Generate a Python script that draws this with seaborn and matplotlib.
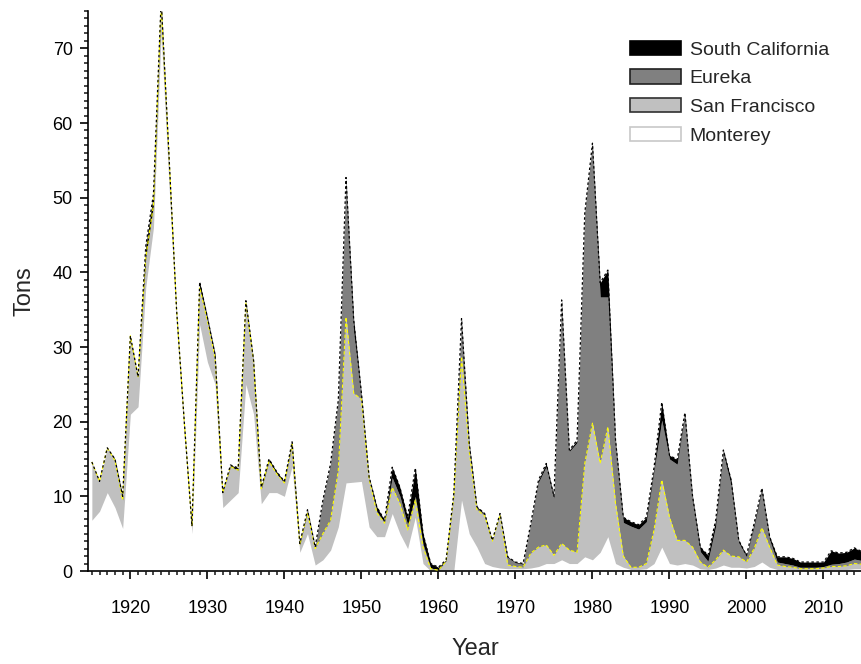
import numpy as np
import pandas as pd
import matplotlib
matplotlib.use("Agg")
import matplotlib.pyplot as plt
from matplotlib.patches import Patch
from matplotlib.ticker import MultipleLocator
import seaborn as sns

years = list(range(1915, 2016))

monterey = [6.8, 8, 10.5, 8.5, 5.7, 21, 22, 38, 46, 72,
            52, 33, 18, 5, 33, 28, 25, 8.5, 9.5, 10.5,
            25, 21, 9, 10.5, 10.5, 10, 14, 2.5, 5, 0.8,
            1.5, 2.8, 5.9, 11.8, 11.9, 12, 5.9, 4.6, 4.6, 7.7,
            5, 3, 7.2, 1, 0, 0, 0, 0, 9.5, 5,
            3.2, 1, 0.6, 0.4, 0.3, 0.3, 0.3, 0.4, 0.6, 1,
            1, 1.5, 1, 1, 1.9, 1.5, 2.5, 4.6, 1, 0.5,
            0.2, 0.2, 0.3, 1, 3.2, 1, 0.8, 1, 0.8, 0.3,
            0.2, 0.4, 0.8, 0.5, 0.5, 0.4, 0.6, 1.2, 0.5, 0.2,
            0.2, 0.2, 0.1, 0.1, 0.1, 0.1, 0.2, 0.2, 0.2, 0.3,
            0.3]

san_francisco = [7.8, 4, 6, 6.3, 3.8, 10.5, 4, 4, 3, 4,
                 4, 2, 2, 1, 5, 5.5, 3.5, 2, 4.5, 3,
                 11, 7, 2, 4.2, 2.5, 1.8, 3, 1, 2.8, 2.2,
                 3.5, 4, 7.6, 22.2, 11.9, 11, 6.4, 3.2, 1.8, 3.5,
                 4, 2.5, 2.3, 2.2, 0.3, 0.1, 1.3, 10, 19.2, 11,
                 5, 6.4, 3.4, 7.1, 0.5, 0.3, 0.2, 2, 2.6, 2.5,
                 1.1, 2.2, 1.8, 1.5, 12.5, 18.3, 11.9, 14.7, 8, 1.5,
                 0.3, 0.3, 0.7, 4.5, 9, 6.2, 3.3, 3.1, 2.4, 0.9,
                 0.3, 1.1, 2, 1.5, 1.4, 0.8, 2.4, 4.6, 2.7, 0.6,
                 0.4, 0.3, 0.2, 0.2, 0.2, 0.3, 0.4, 0.4, 0.5, 0.7,
                 0.6]

eureka = [0, 0, 0, 0, 0, 0, 0, 0, 0, 0,
          0, 0, 0, 0, 0, 0, 0, 0, 0, 0,
          0, 0, 0, 0, 0, 0, 0, 0, 0.2, 0,
          4.3, 7.4, 9.2, 18.5, 8.2, 0.6, 0.2, 0.2, 0.1, 1.3,
          1, 0.7, 0.5, 0.4, 0.1, 0.1, 0.1, 0.2, 4.8, 0.8,
          0.2, 0.2, 0.1, 0.1, 1, 0.5, 0.4, 3.8, 8.7, 10.5,
          7.6, 32.3, 13.2, 14.7, 33.2, 37.2, 22.3, 17.4, 8.2, 4.5,
          5.5, 5.1, 5.6, 7.9, 8, 7.8, 10.2, 16.7, 6.4, 1.4,
          0.8, 4.5, 13, 9.5, 1.9, 0.7, 3, 5, 1, 0.4,
          0.4, 0.3, 0.2, 0.2, 0.2, 0.2, 0.3, 0.4, 0.5, 0.6,
          0.5]

south_california = [0, 0, 0, 0.2, 0.5, 0, 0, 1.5, 1.5, 0.5,
                    0, 0, 0, 0, 0.7, 0.5, 0.5, 0, 0.2, 0.3,
                    0.2, 0.2, 0.2, 0.3, 0.3, 0.2, 0.3, 0.2, 0.2, 0.2,
                    0.2, 0.2, 0.2, 0.2, 1.6, 0.2, 0.1, 0.6, 0.3, 1.4,
                    1.2, 1, 3.8, 1.4, 0.6, 0.3, 0.1, 0.2, 0.3, 0.3,
                    0.2, 0.1, 0, 0.1, 0.1, 0.1, 0.1, 0.2, 0.3, 0.4,
                    0.3, 0.3, 0.2, 0.3, 0.3, 0.3, 1.9, 3.6, 0.3, 0.7,
                    0.6, 0.6, 0.6, 0.5, 2.4, 0.5, 0.6, 0.4, 0.4, 0.6,
                    0.8, 0.8, 0.4, 0.7, 0.3, 0.2, 0.4, 0.3, 0.4, 0.7,
                    0.9, 0.9, 0.7, 0.7, 0.7, 0.6, 1.8, 1.4, 1.3, 1.5,
                    1.2]

series_names = ["Monterey", "San Francisco", "Eureka", "South California"]
series_colors = ["#ffffff", "#c0c0c0", "#808080", "#000000"]
legend_edges = ["#c8c8c8", "#303030", "#202020", "#000000"]

df = pd.DataFrame({"Year": years, "Monterey": monterey,
                   "San Francisco": san_francisco, "Eureka": eureka,
                   "South California": south_california})

sns.set_style("ticks")
plt.rcParams["font.family"] = ["Liberation Sans", "DejaVu Sans"]

fig = plt.figure(figsize=(8.62, 6.64), dpi=100)
ax = fig.add_axes([88 / 862, 1 - 571 / 664, 1 - 88 / 862, (571 - 11) / 664])

base = np.zeros(len(years))
tops = []
for name, col in zip(series_names, series_colors):
    top = base + df[name].to_numpy()
    ax.fill_between(df["Year"], base, top, color=col, linewidth=0, zorder=2)
    tops.append(top)
    base = top

# outlines
sf_top = pd.DataFrame({"Year": years, "v": tops[1]})
total = pd.DataFrame({"Year": years, "v": tops[3]})
sns.lineplot(data=sf_top, x="Year", y="v", ax=ax, color="#ffff00",
             linewidth=0.8, linestyle=(0, (3, 2)), zorder=3)
sns.lineplot(data=total, x="Year", y="v", ax=ax, color="black",
             linewidth=0.9, linestyle=(0, (2, 2)), zorder=4)

ax.set_xlim(1914.5, 2015)
ax.set_ylim(0, 75)
ax.xaxis.set_major_locator(MultipleLocator(10))
ax.xaxis.set_minor_locator(MultipleLocator(1))
ax.yaxis.set_major_locator(MultipleLocator(10))
ax.yaxis.set_minor_locator(MultipleLocator(1))
ax.tick_params(axis="both", which="major", length=6, width=1.2,
               labelsize=13, colors="black", direction="out")
ax.tick_params(axis="both", which="minor", length=3, width=1.2,
               direction="out")
ax.tick_params(axis="x", which="major", pad=15)
ax.tick_params(axis="y", which="major", pad=5)
for s in ["top", "right"]:
    ax.spines[s].set_visible(False)
for s in ["left", "bottom"]:
    ax.spines[s].set_linewidth(1.2)
    ax.spines[s].set_color("black")

ax.set_xlabel("Year", fontsize=17, labelpad=15)
ax.set_ylabel("Tons", fontsize=17, labelpad=12)

handles = [Patch(facecolor=c, edgecolor=e, linewidth=1.2, label=n)
           for n, c, e in zip(series_names, series_colors, legend_edges)][::-1]
leg = ax.legend(handles=handles, loc="upper left", bbox_to_anchor=(0.683, 0.971),
                frameon=False, fontsize=14, handlelength=2.6, handleheight=0.75,
                labelspacing=0.55, handletextpad=0.45, borderpad=0.2)

fig.savefig("out.png", dpi=100)
